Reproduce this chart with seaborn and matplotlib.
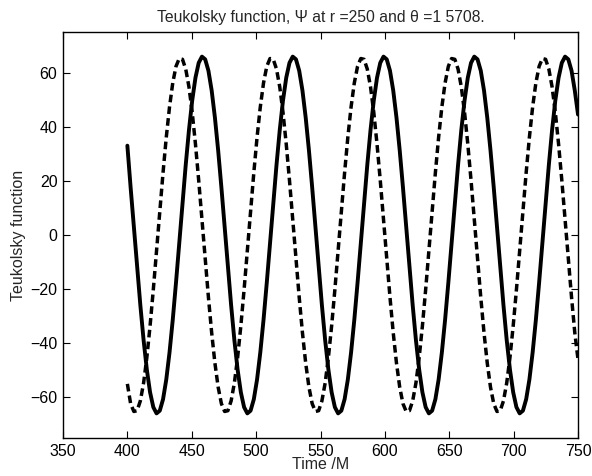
import numpy as np
import pandas as pd
import matplotlib
matplotlib.use("Agg")
import matplotlib.pyplot as plt
import seaborn as sns

# time samples from 400 to 750 M
t_start, t_end, n_samples = 400, 750, 140

# solid curve
psi_solid = [
    33.0, 17.6, 3.0, -11.8, -25.9, -38.8, -49.7, -58.1, -63.6, -65.9, -64.9, -60.7, -53.4, -43.4,
    -31.3, -17.6, -3.0, 11.8, 25.9, 38.8, 49.7, 58.1, 63.6, 65.9, 64.9, 60.7, 53.4, 43.4,
    31.3, 17.6, 3.0, -11.8, -25.9, -38.8, -49.7, -58.1, -63.6, -65.9, -64.9, -60.7, -53.4, -43.4,
    -31.3, -17.6, -3.0, 11.8, 25.9, 38.8, 49.7, 58.1, 63.6, 65.9, 64.9, 60.7, 53.4, 43.4,
    31.3, 17.6, 3.0, -11.8, -25.9, -38.8, -49.7, -58.1, -63.6, -65.9, -64.9, -60.7, -53.4, -43.4,
    -31.3, -17.6, -3.0, 11.8, 25.9, 38.8, 49.7, 58.1, 63.6, 65.9, 64.9, 60.7, 53.4, 43.4,
    31.3, 17.6, 3.0, -11.8, -25.9, -38.8, -49.7, -58.1, -63.6, -65.9, -64.9, -60.7, -53.4, -43.4,
    -31.3, -17.6, -3.0, 11.8, 25.9, 38.8, 49.7, 58.1, 63.6, 65.9, 64.9, 60.7, 53.4, 43.4,
    31.3, 17.6, 3.0, -11.8, -25.9, -38.8, -49.7, -58.1, -63.6, -65.9, -64.9, -60.7, -53.4, -43.4,
    -31.3, -17.6, -3.0, 11.8, 25.9, 38.8, 49.7, 58.1, 63.6, 65.9, 64.9, 60.7, 53.4, 44.5,
]

# dashed curve
psi_dashed = [
    -55.0, -62.3, -65.2, -64.9, -61.3, -54.7, -45.3, -33.6, -20.2, -5.9, 8.8, 23.0, 36.1, 47.3,
    56.2, 62.3, 65.2, 64.9, 61.3, 54.7, 45.3, 33.6, 20.2, 5.9, -8.8, -23.0, -36.1, -47.3,
    -56.2, -62.3, -65.2, -64.9, -61.3, -54.7, -45.3, -33.6, -20.2, -5.9, 8.8, 23.0, 36.1, 47.3,
    56.2, 62.3, 65.2, 64.9, 61.3, 54.7, 45.3, 33.6, 20.2, 5.9, -8.8, -23.0, -36.1, -47.3,
    -56.2, -62.3, -65.2, -64.9, -61.3, -54.7, -45.3, -33.6, -20.2, -5.9, 8.8, 23.0, 36.1, 47.3,
    56.2, 62.3, 65.2, 64.9, 61.3, 54.7, 45.3, 33.6, 20.2, 5.9, -8.8, -23.0, -36.1, -47.3,
    -56.2, -62.3, -65.2, -64.9, -61.3, -54.7, -45.3, -33.6, -20.2, -5.9, 8.8, 23.0, 36.1, 47.3,
    56.2, 62.3, 65.2, 64.9, 61.3, 54.7, 45.3, 33.6, 20.2, 5.9, -8.8, -23.0, -36.1, -47.3,
    -56.2, -62.3, -65.2, -64.9, -61.3, -54.7, -45.3, -33.6, -20.2, -5.9, 8.8, 23.0, 36.1, 47.3,
    56.2, 62.3, 65.2, 64.9, 61.3, 54.7, 45.3, 33.6, 20.2, 5.9, -8.8, -23.0, -36.1, -46.0,
]

x_ticks = [350, 400, 450, 500, 550, 600, 650, 700, 750]
y_ticks = [-60, -40, -20, 0, 20, 40, 60]

sns.set_theme(style="ticks")
plt.rcParams['font.family'] = ['Liberation Sans', 'DejaVu Sans']
plt.rcParams['xtick.direction'] = 'in'
plt.rcParams['ytick.direction'] = 'in'

t = np.linspace(t_start, t_end, n_samples)
df = pd.DataFrame({'t': t, 'solid': psi_solid, 'dashed': psi_dashed})

fig = plt.figure(figsize=(5.92, 4.76), dpi=100)
ax = fig.add_axes([0.1064, 0.0798, 0.870, 0.853])

sns.lineplot(data=df, x='t', y='solid', color='black', linewidth=2.8, ax=ax)
sns.lineplot(data=df, x='t', y='dashed', color='black', linewidth=2.5,
             linestyle=(0, (2.2, 1.2)), ax=ax)

ax.set_xlim(350, 750)
ax.set_ylim(-75, 75)
ax.set_xticks(x_ticks)
ax.set_yticks(y_ticks)
ax.tick_params(axis='both', which='both', direction='in', length=5, width=0.8,
               labelsize=11.5, colors='black', top=True, right=True, pad=4)
for s in ax.spines.values():
    s.set_visible(True)
    s.set_linewidth(1.0)
    s.set_color('black')

ax.set_title('Teukolsky function, \u03a8 at r =250 and \u03b8 =1 5708.', fontsize=11.3, pad=7)
ax.set_xlabel('Time /M', fontsize=11.5, labelpad=-1)
ax.set_ylabel('Teukolsky function', fontsize=11.5, labelpad=3)

fig.savefig('out.png', dpi=100)
plt.close(fig)
